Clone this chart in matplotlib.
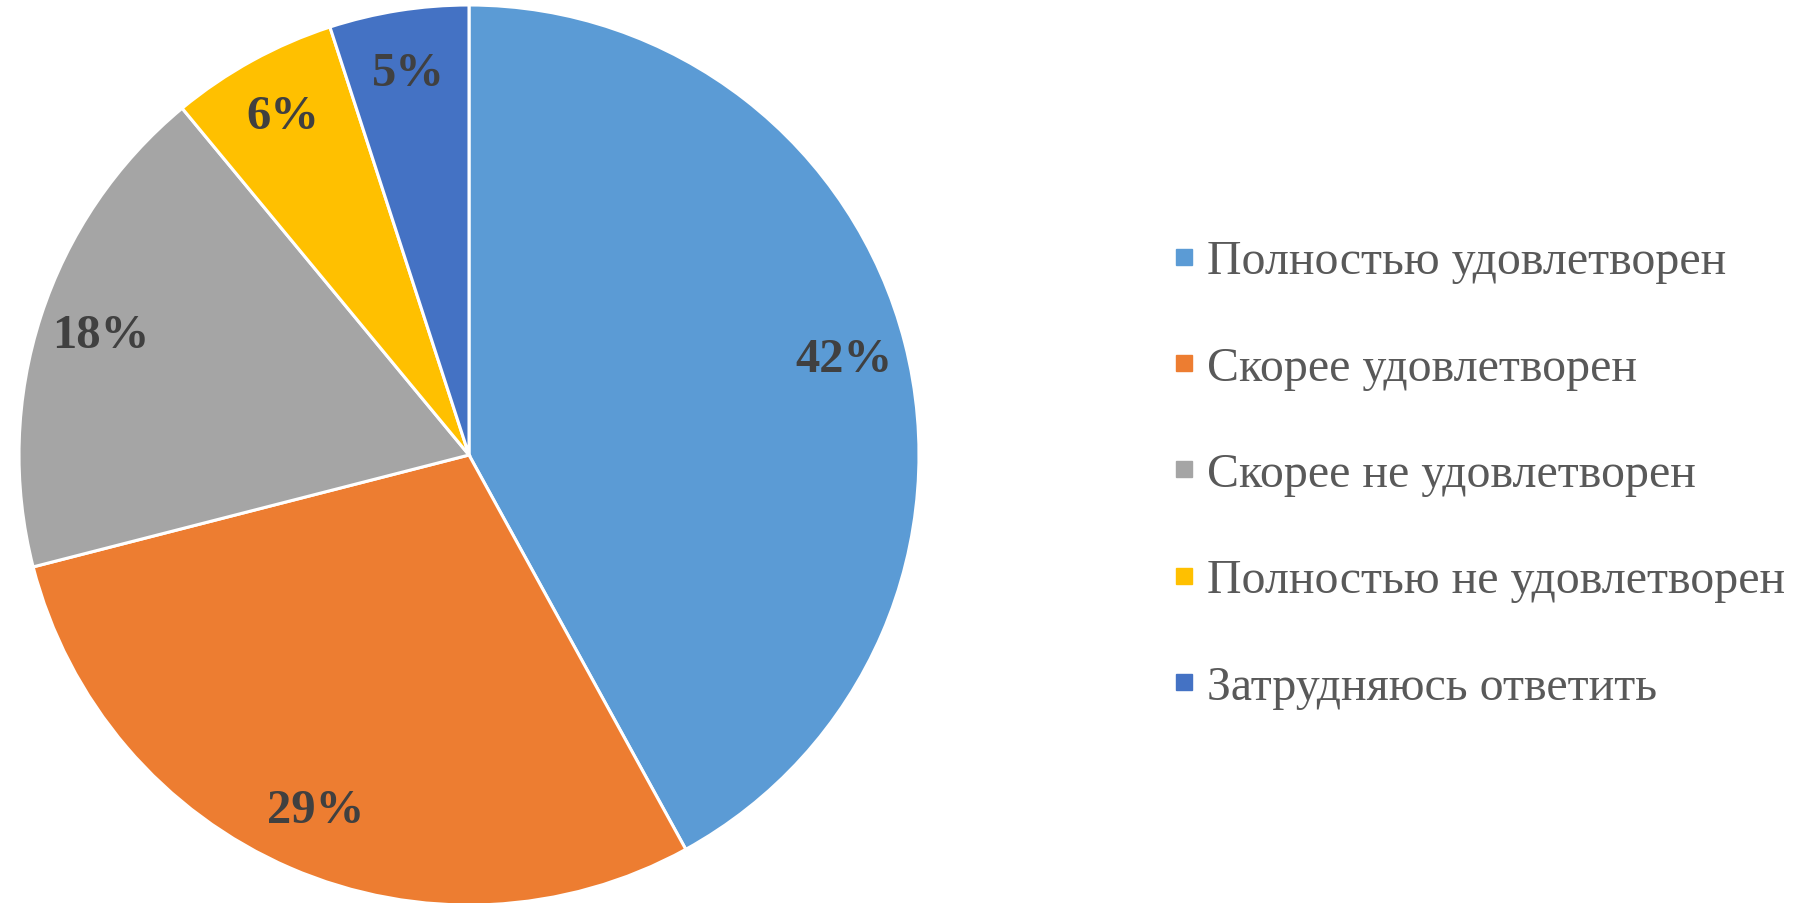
import matplotlib
matplotlib.use('Agg')
import matplotlib.pyplot as plt
from matplotlib.lines import Line2D

plt.rcParams['font.family'] = ['Liberation Serif', 'DejaVu Serif']

# data
categories = ['Полностью удовлетворен', 'Скорее удовлетворен', 'Скорее не удовлетворен',
              'Полностью не удовлетворен', 'Затрудняюсь ответить']
shares = [42, 29, 18, 6, 5]
colors = ['#5B9BD5', '#ED7D31', '#A5A5A5', '#FFC000', '#4472C4']

fig = plt.figure(figsize=(18.16, 9.04), dpi=100)
fig.patch.set_facecolor('white')

# pie axes: centre at (469, 456) px, radius ~450 px
cx, cy, r = 469, 456, 450
ax = fig.add_axes([(cx - r) / 1816, (904 - cy - r) / 904, 2 * r / 1816, 2 * r / 904])

wedges, texts, autotexts = ax.pie(
    shares, colors=colors, startangle=90, counterclock=False, radius=1,
    autopct='%1.0f%%', pctdistance=0.86,
    wedgeprops=dict(edgecolor='white', linewidth=2.2),
    textprops=dict(fontsize=35, fontweight='bold', color='#404040'))
ax.set_xlim(-1, 1)
ax.set_ylim(-1, 1)
ax.set_aspect('equal')
ax.axis('off')

handles = [Line2D([], [], linestyle='none', marker='s', markersize=11,
                  markerfacecolor=c, markeredgecolor=c) for c in colors]
leg = fig.legend(handles, categories, loc='center left',
                 bbox_to_anchor=(1146 / 1816, 1 - 475 / 904),
                 frameon=False, fontsize=34.5, labelspacing=1.3,
                 handlelength=0.6, handletextpad=0.18, borderpad=0)
for t in leg.get_texts():
    t.set_color('#595959')

fig.savefig('out.png', dpi=100, facecolor='white')
